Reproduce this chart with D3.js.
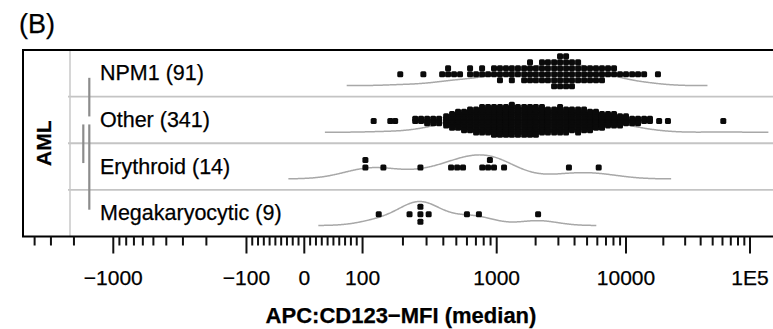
<!DOCTYPE html>
<html>
<head>
<meta charset="utf-8">
<script src="https://cdn.jsdelivr.net/npm/d3@7"></script>
<style>
  body { margin: 0; background: #fff; }
  svg { display: block; font-family: "Liberation Sans", Arial, sans-serif; }
  text { stroke: #000; stroke-width: 0.25px; }
</style>
</head>
<body>
<svg id="chart" width="773" height="329"></svg>
<script>
// subgroups (top to bottom)
const categories = ["NPM1", "Other", "Erythroid", "Megakaryocytic"];

// median MFI values, as [value, how many points sit there]
const npm1Bins = [
  [191, 1], [284, 1],
  [392, 1], [434, 2], [481, 1], [533, 1],
  [633, 2], [702, 1], [778, 2], [862, 1], [955, 2],
  [1060, 3], [1180, 2], [1310, 3], [1460, 2], [1630, 3],
  [1810, 4], [2010, 3], [2240, 4], [2490, 4],
  [2780, 5], [3090, 6], [3440, 6], [3820, 5],
  [4260, 4], [4740, 3], [5270, 3], [5860, 3], [6520, 3],
  [7260, 2], [8080, 2], [8990, 1], [10000, 1], [11200, 1], [12500, 1], [14000, 1],
  [18100, 1]
];
const otherBins = [
  [121, 1], [161, 1], [175, 1],
  [247, 2], [273, 2], [303, 3], [336, 3], [372, 3],
  [420, 5], [465, 7], [515, 8], [571, 9],
  [633, 10], [702, 11], [778, 12], [862, 12], [955, 13],
  [1060, 13], [1180, 13], [1310, 14], [1460, 13], [1630, 13], [1810, 13], [2010, 13], [2240, 12],
  [2490, 11], [2780, 11], [3090, 12], [3440, 11], [3820, 10], [4260, 11], [4740, 10], [5270, 9],
  [5860, 8], [6520, 7], [7260, 6], [8080, 6], [8990, 5],
  [10000, 4], [11200, 3], [12500, 3], [14000, 2], [15600, 2],
  [18500, 1], [21800, 1], [60900, 1]
];
const erythroidBins = [
  [105, 2], [143, 1], [270, 1], [457, 1], [507, 1], [561, 1],
  [780, 1], [862, 1], [890, 1], [955, 1], [1140, 1], [3620, 1], [6150, 1]
];
const megaBins = [
  [132, 1], [224, 1], [270, 3], [311, 1], [600, 1], [737, 1], [2090, 1]
];
const groupBins = [npm1Bins, otherBins, erythroidBins, megaBins];

// grey bars between compared subgroups: [from, to, column]
const comparisons = [["NPM1", "Other", 1], ["Other", "Erythroid", 0], ["Other", "Megakaryocytic", 1]];

const majorTicks = [-1000, -100, 0, 100, 1000, 10000, 100000];
const majorLabels = ["\u22121000", "\u2212100", "0", "100", "1000", "10000", "1E5"];
const panelTitle = "(B)";
const stripLabel = "AML";
const axisTitle = "APC:CD123\u2212MFI (median)";

const W = 773, H = 329;
const box = { left: 23, top: 50, bottom: 236.5, strip: 70, right: 780 };

// lin-log transform: linear inside +-100, log outside
const tr = v => Math.sign(v) * (Math.abs(v) <= 100 ? Math.abs(v) / 100 : 1 + Math.log(Math.abs(v) / 100));

const x = d3.scaleLinear()
  .domain([-tr(1e4), -tr(1e3), 0, tr(1e3), tr(1e4), tr(1e5)])
  .range([-17.4, 113.3, 304.3, 496.7, 626, 750]);
const xv = v => x(tr(v));

const y = d3.scaleBand().domain(categories).range([box.top, box.bottom]);
const rowMid = c => y(c) + y.bandwidth() / 2;

const svg = d3.select("#chart");

// R-style density (nrd0 bandwidth, cut = 3)
function density(vals) {
  const n = vals.length;
  const sd = d3.deviation(vals);
  const iqr = d3.quantile(vals, 0.75) - d3.quantile(vals, 0.25);
  const bw = 0.9 * Math.min(sd, iqr / 1.34) * Math.pow(n, -0.2);
  const lo = d3.min(vals) - 3 * bw, hi = d3.max(vals) + 3 * bw;
  return d3.range(513).map(i => {
    const g = lo + (hi - lo) * i / 512;
    return [g, d3.sum(vals, v => Math.exp(-0.5 * ((g - v) / bw) ** 2)) / (n * bw * Math.sqrt(2 * Math.PI))];
  });
}

// panel title
svg.append("text").attr("x", 19).attr("y", 32.5)
  .style("font-size", "27px").text(panelTitle);

// row separators and strip line
svg.append("g").selectAll("line")
  .data(categories.slice(1))
  .join("line")
  .attr("x1", box.strip - 2).attr("x2", box.right)
  .attr("y1", d => y(d)).attr("y2", d => y(d))
  .attr("stroke", "#c4c4c4").attr("stroke-width", 1.8);

svg.append("line")
  .attr("x1", box.strip).attr("x2", box.strip)
  .attr("y1", box.top).attr("y2", box.bottom)
  .attr("stroke", "#c8c8c8").attr("stroke-width", 1.5);

const rows = svg.append("g").selectAll("g")
  .data(categories.map((c, i) => ({
    cat: c,
    values: groupBins[i].flatMap(([v, k]) => d3.range(k).map(() => v))
  })))
  .join("g");

// density curves
const curveH = 24;
rows.each(function (d) {
  const dens = density(d.values.map(tr));
  const maxD = d3.max(dens, p => p[1]);
  const base = y(d.cat) + y.bandwidth() - 11;
  d3.select(this).append("path")
    .attr("d", d3.line().x(p => x(p[0])).y(p => base - p[1] / maxD * curveH)(dens))
    .attr("fill", "none").attr("stroke", "#a8a8a8").attr("stroke-width", 1.5);
});

// points, stacked where they fall together
rows.each(function (d) {
  const pts = d.values.map(v => ({ v, px: xv(v) })).sort((a, b) => a.px - b.px);
  const stacks = [];
  let cur = null;
  pts.forEach(p => {
    if (!cur || p.px - cur.start > 4) { cur = { start: p.px, items: [] }; stacks.push(cur); }
    cur.items.push(p);
  });
  const maxN = d3.max(stacks, s => s.items.length);
  const step = maxN > 1 ? Math.min(7.5, 30 / (maxN - 1)) : 0;
  stacks.forEach(s => s.items.forEach((p, i) => {
    p.dy = Math.ceil(i / 2) * (i % 2 ? -1 : 1) * step;
  }));
  const cy = rowMid(d.cat) + 1;
  d3.select(this).append("g").selectAll("rect")
    .data(pts)
    .join("rect")
    .attr("x", p => p.px - 3).attr("y", p => cy + p.dy - 3)
    .attr("width", 6).attr("height", 6).attr("rx", 1.5)
    .attr("fill", "#0a0a0a");
});

// comparison bars
svg.append("g").selectAll("line")
  .data(comparisons)
  .join("line")
  .attr("x1", d => 83.3 + d[2] * 6).attr("x2", d => 83.3 + d[2] * 6)
  .attr("y1", d => rowMid(d[0]) + 4.5).attr("y2", d => rowMid(d[1]) - 3.5)
  .attr("stroke", "#8c8c8c").attr("stroke-width", 2.2);

// subgroup labels
svg.append("g").selectAll("text")
  .data(categories.map((c, i) => ({ c, n: d3.sum(groupBins[i], b => b[1]) })))
  .join("text")
  .attr("x", 100).attr("y", d => rowMid(d.c) + 7)
  .style("font-size", "21.5px")
  .text(d => `${d.c} (${d.n})`);

// strip label
svg.append("text")
  .attr("transform", `translate(51,${(box.top + box.bottom) / 2}) rotate(-90)`)
  .attr("text-anchor", "middle")
  .style("font-size", "21px").style("font-weight", "bold")
  .text(stripLabel);

// frame
svg.append("path")
  .attr("d", `M${box.right},${box.top}H${box.left}V${box.bottom}H${box.right}`)
  .attr("fill", "none").attr("stroke", "#000").attr("stroke-width", 2);

// ticks
const minorTicks = [];
[10, 100, 1000, 10000].forEach(dec => d3.range(1, 10).forEach(k => {
  if (k === 1 && dec !== 10) return;
  minorTicks.push(k * dec, -k * dec);
}));
const inView = v => xv(v) >= box.left + 3 && xv(v) <= W;

const axis = svg.append("g").attr("stroke", "#111").attr("stroke-width", 2);
axis.selectAll("line.minor")
  .data(minorTicks.filter(inView))
  .join("line").attr("class", "minor")
  .attr("x1", d => xv(d)).attr("x2", d => xv(d))
  .attr("y1", box.bottom).attr("y2", box.bottom + 9);
axis.selectAll("line.major")
  .data(majorTicks)
  .join("line").attr("class", "major")
  .attr("x1", d => xv(d)).attr("x2", d => xv(d))
  .attr("y1", box.bottom).attr("y2", box.bottom + 17);

svg.append("g").selectAll("text")
  .data(majorTicks)
  .join("text")
  .attr("x", d => xv(d)).attr("y", 285)
  .attr("text-anchor", "middle")
  .style("font-size", "21px")
  .text((d, i) => majorLabels[i]);

svg.append("text")
  .attr("x", 401).attr("y", 323)
  .attr("text-anchor", "middle")
  .style("font-size", "22px").style("font-weight", "bold")
  .text(axisTitle);
</script>
</body>
</html>
